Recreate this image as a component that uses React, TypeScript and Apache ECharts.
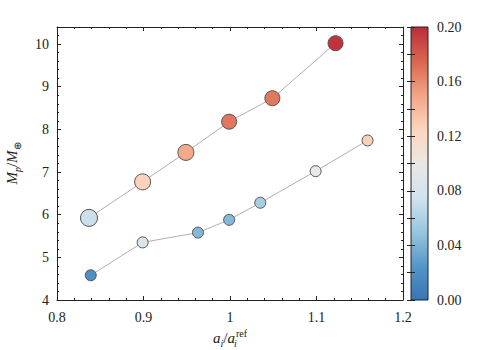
import React, { useEffect, useRef } from 'react';
import * as echarts from 'echarts';

// Upper sequence (larger markers)
const upperX = [0.837, 0.899, 0.949, 0.999, 1.049, 1.122];
const upperY = [5.925, 6.77, 7.46, 8.18, 8.73, 10.02];
const upperC = [0.072, 0.127, 0.148, 0.168, 0.167, 0.197];
const upperSize = [17, 16, 16, 15, 15, 15];

// Lower sequence (smaller markers)
const lowerX = [0.839, 0.899, 0.963, 0.999, 1.035, 1.099, 1.159];
const lowerY = [4.58, 5.35, 5.58, 5.88, 6.28, 7.02, 7.74];
const lowerC = [0.02, 0.085, 0.042, 0.043, 0.057, 0.1, 0.128];
const lowerSize = [11, 11, 11, 11, 11, 11, 11];

// Colour scale (0.00 -> 0.20)
const cMin = 0;
const cMax = 0.2;
const colorStops = [
  '#3775b4', '#5597c8', '#98c6df', '#d2e3ee', '#eae7e4',
  '#fcd6c0', '#f2a585', '#d9654f', '#bc2c3c',
];

const serif = 'Liberation Serif';
const ink = '#222';

export default function App() {
  const ref = useRef<HTMLDivElement>(null);

  useEffect(() => {
    const chart = echarts.init(ref.current!, null, { renderer: 'svg' });

    const upperData = upperX.map((x, i) => ({ value: [x, upperY[i], upperC[i]], symbolSize: upperSize[i] }));
    const lowerData = lowerX.map((x, i) => ({ value: [x, lowerY[i], lowerC[i]], symbolSize: lowerSize[i] }));

    const tickStyle = { color: ink, width: 1 };
    const lineStyle = { color: ink, width: 1 };
    const labelStyle = { fontFamily: serif, fontSize: 14, color: ink };

    const nameRich = {
      it: { fontFamily: serif, fontStyle: 'italic', fontSize: 15, color: ink, verticalAlign: 'bottom', padding: [0, 0, 3, 0] },
      n: { fontFamily: serif, fontSize: 15, color: ink, verticalAlign: 'bottom', padding: [0, 0, 3, 0] },
      sub: { fontFamily: serif, fontStyle: 'italic', fontSize: 10, color: ink, verticalAlign: 'bottom', padding: [0, 0, 0, 0] },
      subz: { fontFamily: serif, fontStyle: 'italic', fontSize: 10, color: ink, verticalAlign: 'bottom', width: 1, padding: [0, 0, 0, 0] },
      subu: { fontFamily: serif, fontSize: 10, color: ink, verticalAlign: 'bottom', padding: [0, 0, 0, 0] },
      sup: { fontFamily: serif, fontSize: 10, color: ink, verticalAlign: 'bottom', padding: [0, 0, 10, 0] },
    };

    const gradient = new echarts.graphic.LinearGradient(
      0, 1, 0, 0,
      colorStops.map((c, i) => ({ offset: i / (colorStops.length - 1), color: c }))
    );

    const mainX = (position: 'bottom' | 'top', showLabel: boolean) => ({
      type: 'value', gridIndex: 0, position, min: 0.8, max: 1.2, interval: 0.1,
      axisLine: { show: true, onZero: false, lineStyle },
      axisTick: { show: true, inside: true, length: 4, lineStyle: tickStyle },
      minorTick: { show: true, splitNumber: 5, length: 2, lineStyle: tickStyle },
      splitLine: { show: false },
      axisLabel: {
        show: showLabel, ...labelStyle, margin: 10,
        formatter: (v: number) => String(parseFloat(v.toFixed(1))),
      },
      ...(showLabel ? {
        name: '{it|a}{sub|i}{n|/}{it|a}{subz|i}{sup|ref}',
        nameLocation: 'middle', nameGap: 27,
        nameTextStyle: { fontFamily: serif, rich: nameRich },
      } : {}),
    });

    const mainY = (position: 'left' | 'right', major: boolean, showLabel: boolean) => ({
      type: 'value', gridIndex: 0, position, min: 4, max: 10.4, interval: major ? 1 : 0.2,
      axisLine: { show: major, onZero: false, lineStyle },
      axisTick: { show: true, inside: true, length: major ? 4 : 2, lineStyle: tickStyle },
      splitLine: { show: false },
      axisLabel: {
        show: showLabel, ...labelStyle, margin: 8,
        formatter: (v: number) => (Math.abs(v - Math.round(v)) < 1e-6 ? String(Math.round(v)) : ''),
      },
      ...(showLabel ? {
        name: '{it|M}{sub|p}{n|/}{it|M}{subu|⊕}',
        nameLocation: 'middle', nameGap: 35, nameRotate: 90,
        nameTextStyle: { fontFamily: serif, rich: nameRich },
      } : {}),
    });

    const cbY = (position: 'left' | 'right', showLabel: boolean) => ({
      type: 'value', gridIndex: 1, position, min: cMin, max: cMax, interval: 0.02,
      axisLine: { show: false },
      axisTick: { show: true, inside: true, length: 4, lineStyle: tickStyle },
      splitLine: { show: false },
      axisLabel: {
        show: showLabel, ...labelStyle, margin: 9,
        formatter: (v: number) => {
          const k = Math.round(v * 100);
          return k % 4 === 0 ? (k / 100).toFixed(2) : '';
        },
      },
    });

    const option = {
      animation: false,
      backgroundColor: '#ffffff',
      textStyle: { fontFamily: serif },
      grid: [
        { left: 57, top: 27, width: 346, height: 273, containLabel: false, outerBoundsMode: 'none' },
        { left: 411, top: 27, width: 17, height: 273, show: true, borderColor: ink, borderWidth: 1, backgroundColor: gradient, containLabel: false, outerBoundsMode: 'none' },
      ],
      xAxis: [
        mainX('bottom', true),
        mainX('top', false),
        { type: 'value', gridIndex: 1, min: 0, max: 1, show: false },
      ],
      yAxis: [
        mainY('left', true, true),
        mainY('left', false, false),
        mainY('right', true, false),
        mainY('right', false, false),
        cbY('right', true),
        cbY('left', false),
      ],
      visualMap: {
        type: 'continuous', show: false, min: cMin, max: cMax, dimension: 2,
        seriesIndex: [2, 3], inRange: { color: colorStops },
      },
      series: [
        {
          type: 'line', xAxisIndex: 0, yAxisIndex: 0, showSymbol: false, symbol: 'none',
          data: upperX.map((x, i) => [x, upperY[i]]),
          lineStyle: { color: '#9a9a9a', width: 0.8 }, z: 1,
        },
        {
          type: 'line', xAxisIndex: 0, yAxisIndex: 0, showSymbol: false, symbol: 'none',
          data: lowerX.map((x, i) => [x, lowerY[i]]),
          lineStyle: { color: '#9a9a9a', width: 0.8 }, z: 1,
        },
        {
          type: 'scatter', xAxisIndex: 0, yAxisIndex: 0, data: upperData,
          itemStyle: { borderColor: '#555', borderWidth: 1, opacity: 1 }, z: 3,
        },
        {
          type: 'scatter', xAxisIndex: 0, yAxisIndex: 0, data: lowerData,
          itemStyle: { borderColor: '#555', borderWidth: 1, opacity: 1 }, z: 3,
        },
      ],
    };

    chart.setOption(option as any);
    return () => chart.dispose();
  }, []);

  return <div ref={ref} style={{ position: 'absolute', left: 0, top: 0, width: 500, height: 350 }} />;
}
